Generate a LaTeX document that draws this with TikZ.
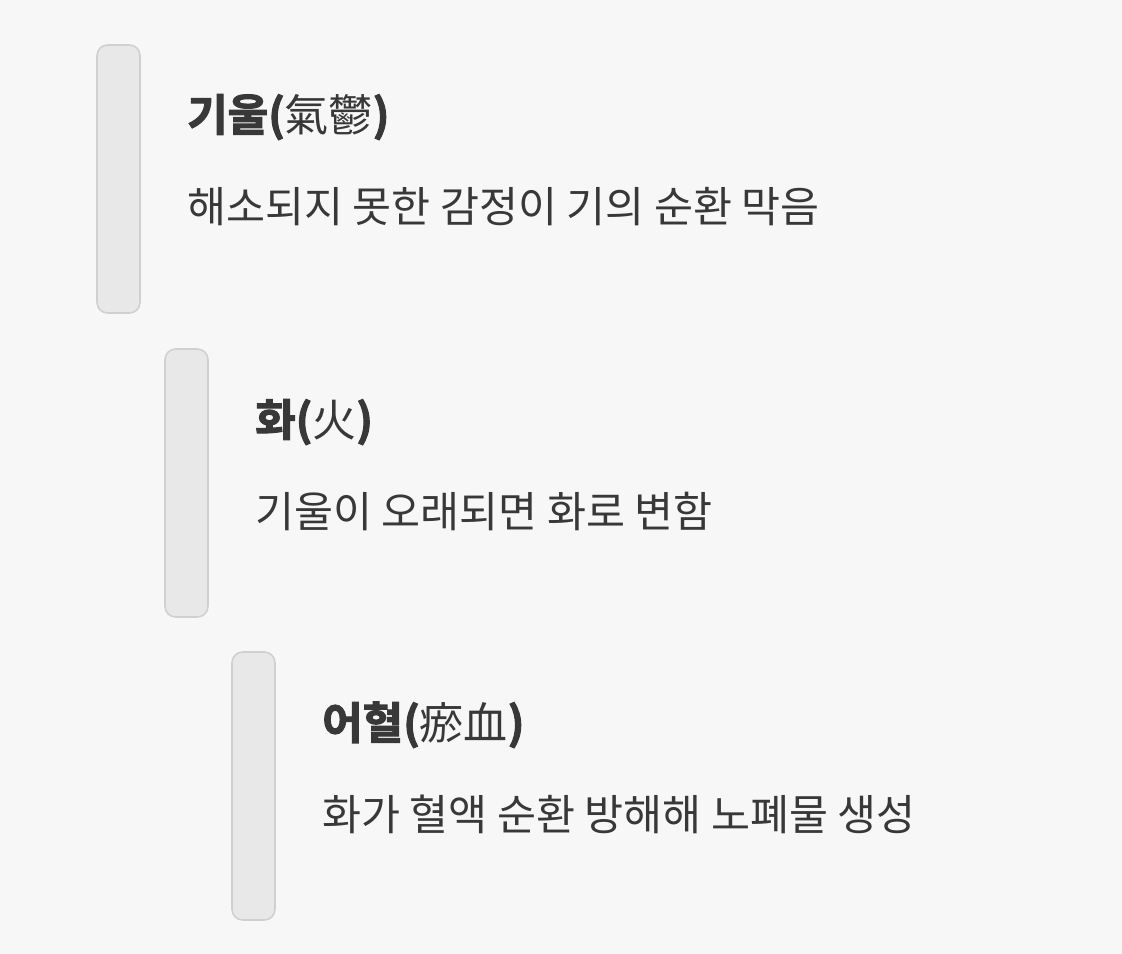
\documentclass[tikz,border=0pt]{standalone}
\usepackage{fontspec}
\newfontfamily\kr{Noto Sans CJK KR}
\newfontfamily\krb{Noto Sans CJK KR Bold}[FakeBold=2.5]
\definecolor{bg}{HTML}{F7F7F7}
\definecolor{barfill}{HTML}{E8E8E8}
\definecolor{barline}{HTML}{D0D0D0}
\definecolor{txt}{HTML}{383838}
\tikzset{
  bar/.style={fill=barfill,draw=barline,line width=1.2pt,rounded corners=8pt},
  title/.style={anchor=base west,inner sep=0pt,text=txt,font=\krb\fontsize{33}{38}\selectfont},
  body/.style={anchor=base west,inner sep=0pt,text=txt,font=\kr\fontsize{31.8}{36}\selectfont},
}
\newcommand{\hj}[1]{{\kr #1}}
\begin{document}
\begin{tikzpicture}[x=0.75pt,y=-0.75pt]
\fill[bg] (0,0) rectangle (1122,954);
\useasboundingbox (0,0) rectangle (1122,954);
\draw[bar] (97,45) rectangle (140,313);
\draw[bar] (165,349) rectangle (208,617);
\draw[bar] (232,652) rectangle (275,920);
\node[title] (t1) at (187,131) {기울(\hj{氣鬱})};
\node[body] (b1) at (187,222) {해소되지 못한 감정이 기의 순환 막음};
\node[title] (t2) at (255,436) {화(\hj{火})};
\node[body] (b2) at (255,527) {기울이 오래되면 화로 변함};
\node[title] (t3) at (322,739) {어혈(\hj{瘀血})};
\node[body] (b3) at (322,830) {화가 혈액 순환 방해해 노폐물 생성};
\end{tikzpicture}
\end{document}
